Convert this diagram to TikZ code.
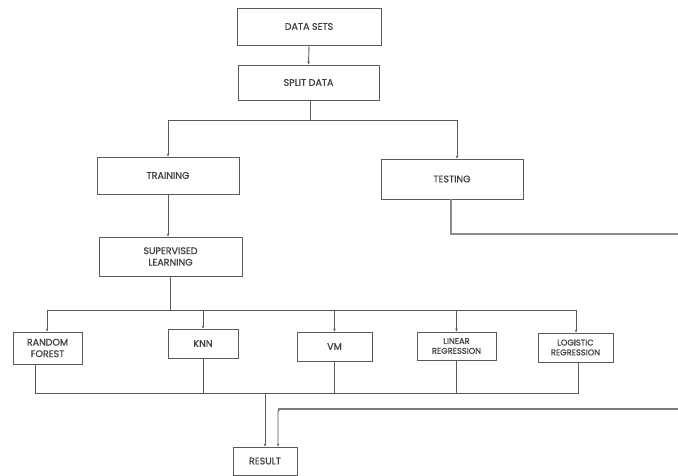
\documentclass[tikz,border=0pt]{standalone}
\usepackage{fontspec}
\setmainfont{Poppins}[FakeBold=0.9]
\usetikzlibrary{arrows.meta}
\definecolor{linegray}{HTML}{5A5A5A}
\definecolor{lightline}{HTML}{8C8C8C}
\definecolor{textgray}{HTML}{404040}
\begin{document}
\begin{tikzpicture}[x=1pt,y=-1pt,
  box/.style={draw=linegray,line width=0.9pt,fill=white,text=textgray,inner sep=0pt,align=center,font=\fontsize{9.5}{11.5}\selectfont},
  smallbox/.style={box,font=\fontsize{8.3}{9.8}\selectfont},
  conn/.style={draw=linegray,line width=0.9pt},
  arr/.style={conn,-{Stealth[length=3pt,width=2.5pt]}},
  ext/.style={draw=lightline,line width=1.3pt}]
\useasboundingbox (0,0) rectangle (678,476);
\fill[white] (0,0) rectangle (678,476);
% nodes
\node[box,minimum width=144pt,minimum height=37pt] (ds) at (309,26.5) {DATA SETS};
\node[box,minimum width=141pt,minimum height=35pt] (split) at (308.5,82.5) {SPLIT DATA};
\node[box,minimum width=142pt,minimum height=37pt] (train) at (168,175.5) {TRAINING};
\node[box,minimum width=142pt,minimum height=40pt] (test) at (452,179) {TESTING};
\node[box,minimum width=143pt,minimum height=39pt] (sup) at (170.5,256.5) {SUPERVISED\\LEARNING};
\node[box,minimum width=69pt,minimum height=32pt] (rf) at (47.5,348) {RANDOM\\FOREST};
\node[box,minimum width=70pt,minimum height=29pt] (knn) at (203,343.5) {KNN};
\node[box,minimum width=75pt,minimum height=29pt] (vm) at (334.5,346.5) {VM};
\node[smallbox,minimum width=79pt,minimum height=28pt] (lr) at (456.5,346) {LINEAR\\REGRESSION};
\node[smallbox,minimum width=75pt,minimum height=29pt] (lgr) at (575.5,347.5) {LOGISTIC\\REGRESSION};
\node[box,minimum width=64pt,minimum height=28pt] (res) at (265,461) {RESULT};
% junction coordinates
\coordinate (j1) at (310,120);
\coordinate (j1l) at (168,120);
\coordinate (j1r) at (457,120);
\coordinate (j2) at (170,310);
\coordinate (j2l) at (47,310);
\coordinate (j2r) at (576,310);
\coordinate (j3l) at (35,393);
\coordinate (j3r) at (578,393);
\coordinate (j3) at (265,393);
\coordinate (tdown) at (451,234);
\coordinate (tend) at (678,234);
\coordinate (rin) at (678,409);
\coordinate (rcorner) at (278,409);
% connectors
\draw[arr] (ds.south) -- (split.north);
\draw[conn] (split.south -| j1) -- (j1);
\draw[conn] (j1l) -- (j1r);
\draw[arr] (j1l) -- (train.north);
\draw[arr] (j1r) -- (j1r |- test.north);
\draw[arr] (train.south) -- (train.south |- sup.north);
\draw[conn] (sup.south -| j2) -- (j2);
\draw[conn] (j2l) -- (j2r);
\draw[arr] (j2l) -- (j2l |- rf.north);
\draw[arr] (knn.north |- j2) -- (knn.north);
\draw[arr] (vm.north |- j2) -- (vm.north);
\draw[arr] (lr.north |- j2) -- (lr.north);
\draw[arr] (j2r) -- (j2r |- lgr.north);
\draw[conn] (j3l |- rf.south) -- (j3l) -- (j3r) -- (j3r |- lgr.south);
\draw[conn] (knn.south) -- (knn.south |- j3);
\draw[conn] (vm.south) -- (vm.south |- j3);
\draw[conn] (lr.south) -- (lr.south |- j3);
\draw[arr] (j3) -- (res.north);
\draw[ext] (tdown |- test.south) -- (tdown) -- (tend);
\draw[ext] (rin) -- (rcorner);
\draw[arr,rounded corners=3pt] (rin) -- (rcorner) -- (rcorner |- res.north);
\end{tikzpicture}
\end{document}
